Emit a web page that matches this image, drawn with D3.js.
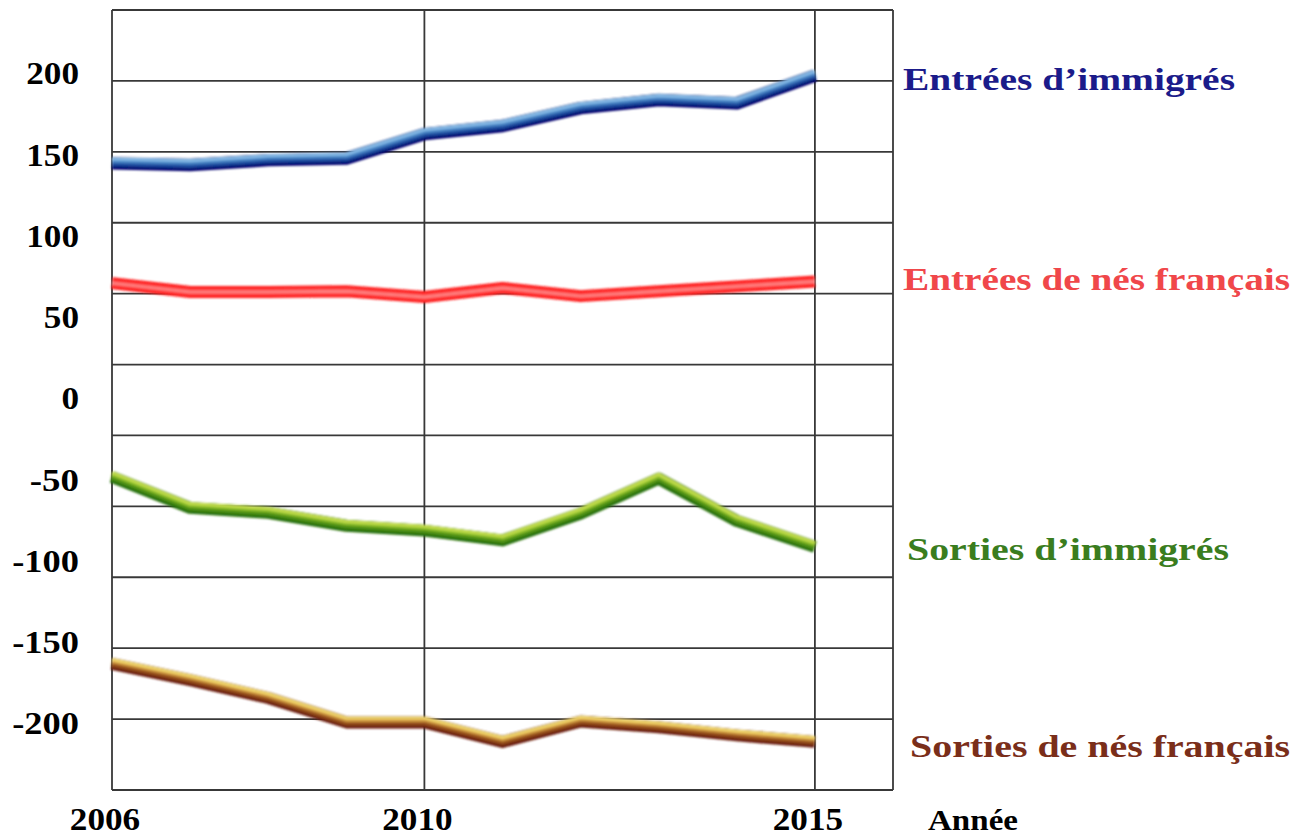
<!DOCTYPE html>
<html>
<head>
<meta charset="utf-8">
<script src="https://cdn.jsdelivr.net/npm/d3@7"></script>
<style>
  html, body { margin: 0; padding: 0; background: #fff; }
  svg { display: block; }
</style>
</head>
<body>
<svg id="chart" width="1296" height="836"></svg>
<script>
// ---- data ----
const years = [2006, 2007, 2008, 2009, 2010, 2011, 2012, 2013, 2014, 2015];
const entreesImmigres = [145, 144, 147, 148, 163, 168, 179, 184, 182, 199];
const entreesNesFrancais = [71, 65.5, 65.5, 66, 62.5, 68, 63, 66, 69, 72];
const sortiesImmigres = [-48, -67, -70, -78, -81, -87, -70.5, -49, -75, -91];
const sortiesNesFrancais = [-163, -173, -184, -199, -199, -211, -198.5, -202, -207, -211];
const yTickValues = [200, 150, 100, 50, 0, -50, -100, -150, -200];
const xTickValues = [2006, 2010, 2015];
const xGridValues = [2006, 2010, 2015, 2016];
const seriesNames = ["Entrées d\u2019immigrés", "Entrées de nés français", "Sorties d\u2019immigrés", "Sorties de nés français"];
const axisTitle = "Année";
const gridRows = 11;

// ---- layout ----
const svg = d3.select("#chart");
const pLeft = 112, pRight = 893, pTop = 10, pBottom = 790;
const x = d3.scaleLinear().domain([2006, 2016]).range([pLeft, pRight]);
const y = d3.scaleLinear().domain([-200, 200]).range([723.5, 73.5]);
const gridY = d3.scaleLinear().domain([0, gridRows]).range([pTop, pBottom]);
const labelWidth = s => { s = String(s); const digits = s.replace("-", "").length; return digits * 17.6 + (s.startsWith("-") ? 14 : 0); };

const defs = svg.append("defs");
defs.append("filter").attr("id", "soft").attr("x", "-5%").attr("y", "-50%").attr("width", "110%").attr("height", "200%")
  .append("feGaussianBlur").attr("stdDeviation", 0.8);
defs.append("filter").attr("id", "softer").attr("x", "-5%").attr("y", "-5%").attr("width", "110%").attr("height", "110%")
  .append("feGaussianBlur").attr("stdDeviation", 0.4);

// grid
const grid = svg.append("g").attr("stroke", "#383838").attr("stroke-width", 1.8).attr("fill", "none")
  .attr("filter", "url(#softer)");
grid.selectAll("line.h").data(d3.range(gridRows + 1)).join("line")
  .attr("class", "h")
  .attr("x1", pLeft).attr("x2", pRight)
  .attr("y1", d => gridY(d)).attr("y2", d => gridY(d));
grid.selectAll("line.v").data(xGridValues).join("line")
  .attr("class", "v")
  .attr("x1", d => x(d)).attr("x2", d => x(d))
  .attr("y1", pTop).attr("y2", pBottom);

// y tick labels
svg.append("g").selectAll("text").data(yTickValues).join("text")
  .attr("x", 79).attr("y", d => y(d)).attr("dy", "0.34em")
  .attr("text-anchor", "end")
  .attr("font-family", "Liberation Serif, serif").attr("font-weight", "bold")
  .attr("font-size", 32).attr("fill", "#000")
  .attr("textLength", d => labelWidth(d)).attr("lengthAdjust", "spacingAndGlyphs")
  .text(d => d);

// x tick labels
svg.append("g").selectAll("text").data(xTickValues).join("text")
  .attr("x", d => x(d) - 7).attr("y", 830)
  .attr("text-anchor", "middle")
  .attr("font-family", "Liberation Serif, serif").attr("font-weight", "bold")
  .attr("font-size", 32).attr("fill", "#000")
  .attr("textLength", d => labelWidth(d)).attr("lengthAdjust", "spacingAndGlyphs")
  .text(d => d);

svg.append("text").attr("x", 928).attr("y", 830)
  .attr("font-family", "Liberation Serif, serif").attr("font-weight", "bold")
  .attr("font-size", 29).attr("fill", "#000")
  .attr("textLength", 90).attr("lengthAdjust", "spacingAndGlyphs")
  .text(axisTitle);

// series
const series = [
  { name: seriesNames[0], values: entreesImmigres, labelColor: "#1b1b8a",
    layers: [{w: 12.5, dy: 0.5, c: "#00006e"}, {w: 9, dy: -1, c: "#1d4c9e"}, {w: 5.5, dy: -2.5, c: "#4a86c6"}, {w: 2.5, dy: -3.8, c: "#8cc0ea"}],
    lx: 903, ly: 90, lw: 332 },
  { name: seriesNames[1], values: entreesNesFrancais, labelColor: "#f0474a",
    layers: [{w: 12, dy: 0, c: "#ff1a1a"}, {w: 7, dy: 0, c: "#ff3c3c"}, {w: 3, dy: 0, c: "#ff8080"}],
    lx: 903, ly: 290, lw: 387 },
  { name: seriesNames[2], values: sortiesImmigres, labelColor: "#3a7d1e",
    layers: [{w: 12, dy: 0.5, c: "#267008"}, {w: 8.5, dy: -1, c: "#4f9216"}, {w: 5, dy: -2.5, c: "#8fbf2c"}, {w: 2.5, dy: -3.8, c: "#c8e050"}],
    lx: 907, ly: 560, lw: 322 },
  { name: seriesNames[3], values: sortiesNesFrancais, labelColor: "#7a2e1a",
    layers: [{w: 12, dy: 0.5, c: "#6a1c0c"}, {w: 8.5, dy: -1, c: "#96501e"}, {w: 5, dy: -2.5, c: "#d09a40"}, {w: 2.5, dy: -3.8, c: "#f4dc70"}],
    lx: 910, ly: 757, lw: 380 }
];

series.forEach(s => {
  const g = svg.append("g").attr("filter", "url(#soft)");
  s.layers.forEach(L => {
    const line = d3.line().x((d, i) => x(years[i])).y(d => y(d) + L.dy);
    g.append("path").datum(s.values)
      .attr("d", line)
      .attr("fill", "none")
      .attr("stroke", L.c)
      .attr("stroke-width", L.w)
      .attr("stroke-linejoin", "round")
      .attr("stroke-linecap", "butt");
  });
  svg.append("text")
    .attr("x", s.lx).attr("y", s.ly)
    .attr("font-family", "Liberation Serif, serif").attr("font-weight", "bold")
    .attr("font-size", 31).attr("fill", s.labelColor)
    .attr("textLength", s.lw).attr("lengthAdjust", "spacingAndGlyphs")
    .text(s.name);
});
</script>
</body>
</html>
